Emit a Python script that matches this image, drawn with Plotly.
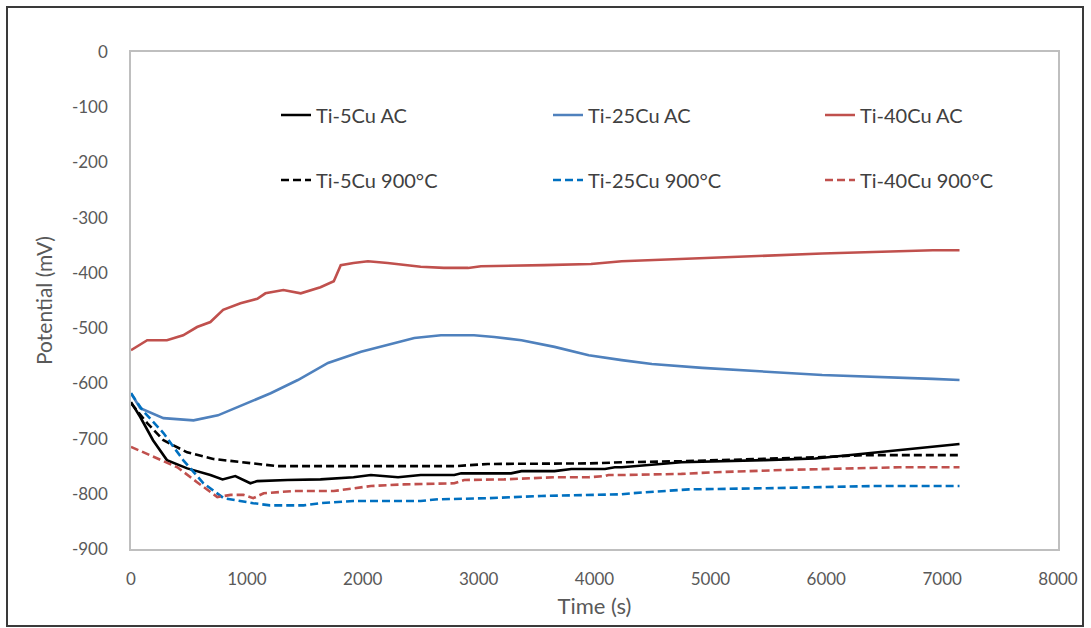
import plotly.graph_objects as go

# ---- data ----
t_40ac = [0, 140, 310, 450, 570, 685, 795, 945, 1090, 1160, 1315, 1465, 1635, 1750, 1810, 1920, 2045, 2215, 2500, 2700, 2910, 3020, 3565, 3970, 4235, 4930, 5965, 6920, 7150]
v_40ac = [-540, -522, -522, -513, -498, -489, -467, -455, -447, -437, -431, -437, -426, -415, -386, -382, -379, -382, -389, -391, -391, -388, -386, -384, -379, -373, -365, -359, -359]

t_25ac = [0, 80, 280, 540, 750, 1005, 1205, 1440, 1700, 1985, 2215, 2445, 2675, 2960, 3135, 3370, 3655, 3950, 4235, 4495, 4930, 5965, 6920, 7150]
v_25ac = [-618, -645, -663, -667, -658, -636, -618, -594, -563, -543, -531, -518, -513, -513, -516, -522, -534, -549, -558, -565, -572, -585, -592, -594]

t_5ac = [0, 80, 190, 310, 485, 685, 790, 900, 1030, 1090, 1350, 1635, 1920, 2070, 2305, 2500, 2790, 2850, 3280, 3370, 3655, 3800, 4090, 4175, 4235, 4750, 5470, 5905, 6340, 6630, 6920, 7150]
v_5ac = [-634, -661, -703, -739, -754, -766, -774, -768, -781, -777, -775, -774, -770, -766, -770, -766, -766, -763, -763, -759, -759, -755, -755, -752, -752, -743, -739, -736, -727, -721, -716, -710]

t_5ht = [0, 140, 280, 485, 710, 1055, 1265, 1635, 2215, 2790, 3080, 3370, 3950, 4235, 4750, 5905, 6340, 7150]
v_5ht = [-636, -672, -703, -725, -737, -745, -750, -750, -750, -750, -746, -746, -745, -743, -741, -734, -730, -730]

t_40ht = [0, 190, 400, 570, 745, 860, 970, 1055, 1145, 1405, 1750, 2070, 2355, 2790, 2875, 3220, 3655, 3950, 4090, 4120, 4235, 4750, 5040, 5620, 6340, 6630, 7150]
v_40ht = [-715, -733, -752, -779, -806, -802, -802, -808, -799, -795, -795, -786, -783, -781, -775, -774, -770, -770, -768, -766, -766, -764, -761, -757, -754, -752, -752]

t_25ht = [0, 100, 280, 450, 625, 800, 1055, 1200, 1490, 1635, 1920, 2500, 2650, 3080, 3540, 4235, 4320, 4815, 5470, 6400, 7150]
v_25ht = [-618, -649, -690, -739, -781, -808, -817, -821, -821, -817, -813, -813, -810, -808, -804, -801, -799, -792, -790, -786, -786]

series_names = ["Ti-5Cu AC", "Ti-25Cu AC", "Ti-40Cu AC",
                "Ti-5Cu 900°C", "Ti-25Cu 900°C", "Ti-40Cu 900°C"]

x_ticks = [0, 1000, 2000, 3000, 4000, 5000, 6000, 7000, 8000]
y_ticks = [0, -100, -200, -300, -400, -500, -600, -700, -800, -900]

FONT = "Lato, Open Sans, Arial"

W, H = 1091, 628
L, R, T, B = 131, 33, 52, 79
pw, ph = W - L - R, H - T - B

def px(x):
    return (x - L) / pw

def py(y):
    return (H - B - y) / ph

lw = 2.6
dash = "8px,4px"
series = [
    (t_5ac, v_5ac, "#000000", "solid"),
    (t_25ac, v_25ac, "#4F81BD", "solid"),
    (t_40ac, v_40ac, "#C0504D", "solid"),
    (t_5ht, v_5ht, "#000000", dash),
    (t_25ht, v_25ht, "#0070C0", dash),
    (t_40ht, v_40ht, "#C0504D", dash),
]

# legend slots: text-left x positions and row y positions (pixels)
leg_text_x = [318, 590, 862]
leg_row_y = [115, 180]

fig = go.Figure()
legends = {}
for i, ((tx, vy, col, ds), nm) in enumerate(zip(series, series_names)):
    key = "legend" if i == 0 else f"legend{i + 1}"
    fig.add_trace(go.Scatter(x=tx, y=vy, mode="lines", name=nm, showlegend=True,
                             line=dict(color=col, width=lw, dash=ds), legend=key))
    legends[key] = dict(
        x=px(leg_text_x[i % 3] - 42), y=py(leg_row_y[i // 3]),
        xanchor="left", yanchor="middle",
        font=dict(family=FONT, size=20, color="#404040"),
        bgcolor="rgba(0,0,0,0)", itemwidth=30,
    )

fig.update_layout(
    width=W, height=H,
    showlegend=True,
    margin=dict(l=L, r=R, t=T, b=B),
    paper_bgcolor="white", plot_bgcolor="white",
    font=dict(family=FONT, color="#595959"),
    xaxis=dict(range=[0, 8000], tickvals=x_ticks, ticktext=[str(v) for v in x_ticks],
               showgrid=False, zeroline=False, showline=True, linecolor="#BFBFBF",
               linewidth=1.5, mirror=True, ticks="", ticklabelstandoff=14,
               tickfont=dict(family=FONT, size=17, color="#595959"),
               title=dict(text="Time (s)", font=dict(family=FONT, size=22, color="#595959"), standoff=10)),
    yaxis=dict(range=[-900, 0], tickvals=y_ticks, ticktext=[str(v) for v in y_ticks],
               showgrid=False, zeroline=False, showline=True, linecolor="#BFBFBF",
               linewidth=1.5, mirror=True, ticks="", ticklabelstandoff=18,
               tickfont=dict(family=FONT, size=17, color="#595959"),
               title=dict(text="Potential (mV)", font=dict(family=FONT, size=21, color="#595959"), standoff=14)),
    shapes=[dict(type="rect", xref="paper", yref="paper",
                 x0=px(7), x1=px(1083), y0=py(626), y1=py(7),
                 line=dict(color="#3a3a3a", width=2), fillcolor="rgba(0,0,0,0)", layer="below")],
    **legends,
)

fig.write_html("out.html")
